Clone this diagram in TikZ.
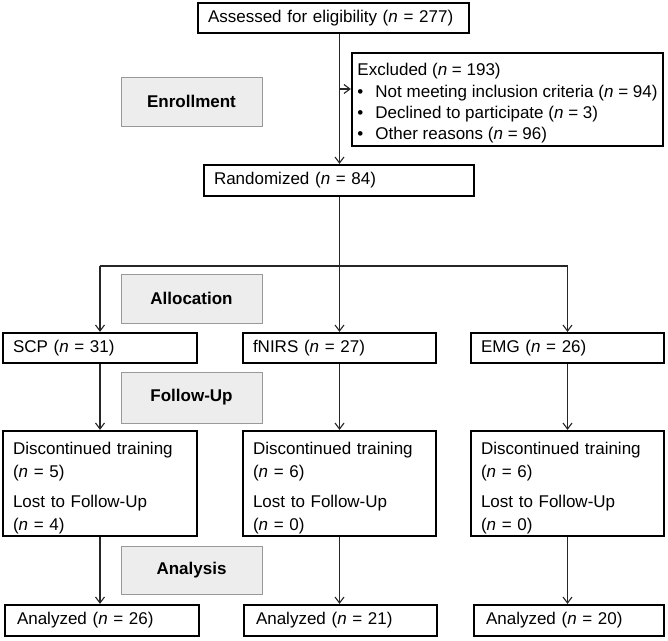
\documentclass[tikz,border=0pt]{standalone}
\usepackage{fontspec}
\setmainfont{Liberation Sans}
\usetikzlibrary{arrows.meta,calc}
\newcommand{\highstrut}[1]{\rule{0pt}{#1}}
\begin{document}
\begin{tikzpicture}[x=1pt,y=1pt,
  font=\fontsize{17}{23}\selectfont,
  bx/.style={draw=black, line width=2.2pt, align=left, inner xsep=10pt, inner ysep=0pt, anchor=center},
  stage/.style={draw=black!40, fill=black!7, line width=1pt, minimum width=141pt, minimum height=49pt, font=\fontsize{17}{20}\selectfont\bfseries},
  conn/.style={draw=black!85, line width=1.1pt},
  arr/.style={conn, -{Straight Barb[length=6pt,width=9pt]}}
]
\useasboundingbox (0,0) rectangle (668,-640);

% top
\node[bx, minimum width=271pt, minimum height=30pt, text width=251pt] (A) at (333.5,-18) {Assessed for eligibility (\textit{n} = 277)};
\node[bx, minimum width=311pt, minimum height=93pt, inner xsep=5pt, font=\fontsize{17}{21.3}\selectfont] (E) at (507.5,-99.5)
  {\highstrut{20pt}Excluded (\textit{n} = 193)\\
   \makebox[18pt][l]{\textbullet}Not meeting inclusion criteria (\textit{n} = 94)\\
   \makebox[18pt][l]{\textbullet}Declined to participate (\textit{n} = 3)\\
   \makebox[18pt][l]{\textbullet}Other reasons (\textit{n} = 96)};
\node[bx, minimum width=270pt, minimum height=31pt, text width=250pt] (R) at (339,-180.5) {Randomized (\textit{n} = 84)};

% stage labels
\node[stage] (enr) at (191.5,-101.5) {Enrollment};
\node[stage] (alo) at (191.5,-298.5) {Allocation};
\node[stage, minimum height=51pt] (fol) at (191.5,-397.5) {Follow-Up};
\node[stage, minimum height=48pt] (ana) at (191.5,-570) {Analysis};

% allocation boxes
\node[bx, minimum width=194pt, minimum height=30pt, text width=174pt] (S) at (100,-348) {SCP (\textit{n} = 31)};
\node[bx, minimum width=193pt, minimum height=30pt, text width=173pt] (F) at (339.5,-348) {fNIRS (\textit{n} = 27)};
\node[bx, minimum width=193pt, minimum height=30pt, text width=173pt] (G) at (567.5,-348) {EMG (\textit{n} = 26)};

% follow-up boxes
\node[bx, minimum width=194pt, minimum height=105pt, text width=174pt] (S2) at (100,-483.5)
  {\highstrut{21pt}Discontinued training\\(\textit{n} = 5)\\[7pt]Lost to Follow-Up\\(\textit{n} = 4)};
\node[bx, minimum width=193pt, minimum height=105pt, text width=173pt] (F2) at (339.5,-483.5)
  {\highstrut{21pt}Discontinued training\\(\textit{n} = 6)\\[7pt]Lost to Follow-Up\\(\textit{n} = 0)};
\node[bx, minimum width=193pt, minimum height=105pt, text width=173pt] (G2) at (567.5,-483.5)
  {\highstrut{21pt}Discontinued training\\(\textit{n} = 6)\\[7pt]Lost to Follow-Up\\(\textit{n} = 0)};

% analysis boxes
\node[bx, minimum width=194pt, minimum height=31pt, inner xsep=12pt, text width=170pt] (S3) at (102,-620.5) {Analyzed (\textit{n} = 26)};
\node[bx, minimum width=193pt, minimum height=31pt, inner xsep=12pt, text width=169pt] (F3) at (340.5,-620.5) {Analyzed (\textit{n} = 21)};
\node[bx, minimum width=190pt, minimum height=31pt, inner xsep=12pt, text width=166pt] (G3) at (569,-620.5) {Analyzed (\textit{n} = 20)};

% connectors
\coordinate (ex) at ($(E.west)+(0,10.5)$);
\coordinate (br) at (0,-266);
\draw[arr] (A.south -| F.north) -- (R.north -| F.north);
\draw[arr] (ex -| F.north) -- (ex);
\draw[arr] (R.south -| F.north) -- (F.north);
\draw[conn] (br -| S.north) -- (br -| G.north);
\draw[arr] (br -| S.north) -- (S.north);
\draw[arr] (br -| G.north) -- (G.north);
\draw[arr] (S.south) -- (S2.north);
\draw[arr] (F.south) -- (F2.north);
\draw[arr] (G.south) -- (G2.north);
\draw[arr] (S2.south) -- (S2.south |- S3.north);
\draw[arr] (F2.south) -- (F2.south |- F3.north);
\draw[arr] (G2.south) -- (G2.south |- G3.north);
\end{tikzpicture}
\end{document}
